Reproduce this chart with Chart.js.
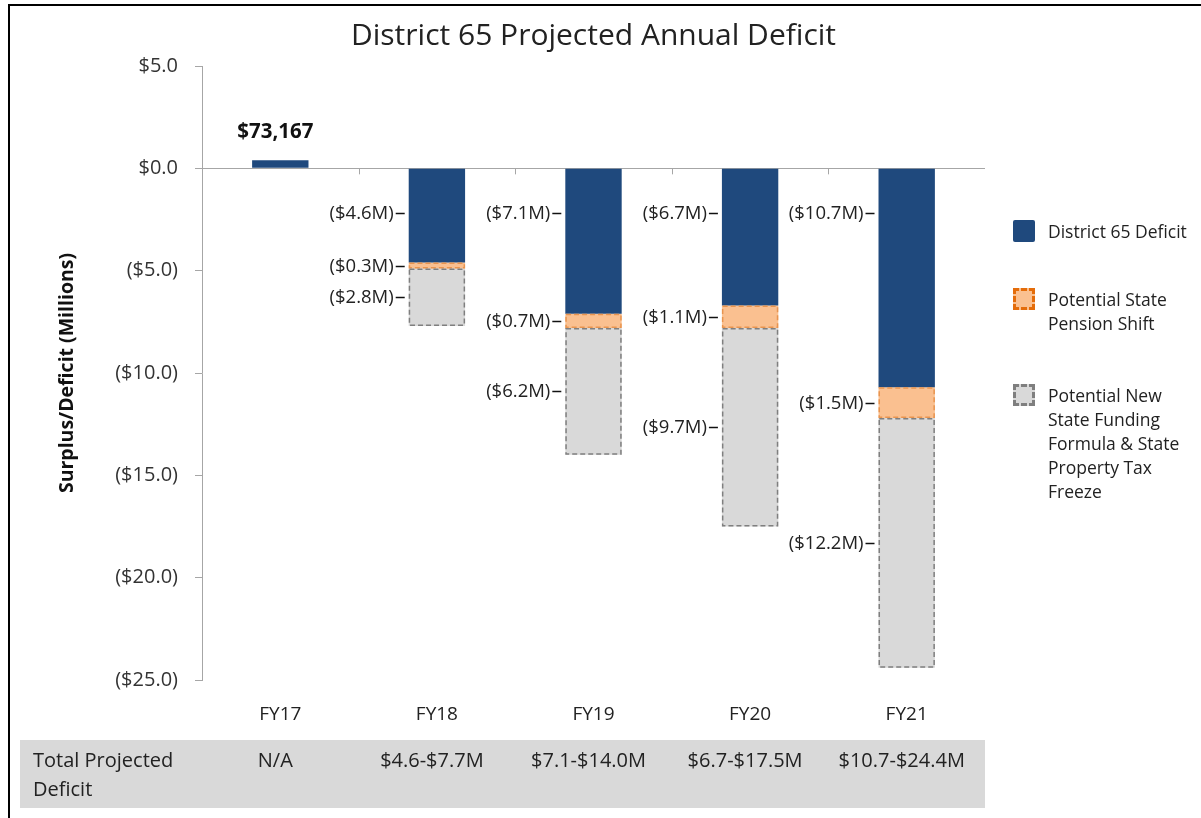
<!DOCTYPE html>
<html>
<head>
<meta charset="utf-8">
<script src="https://cdn.jsdelivr.net/npm/chart.js@4.4.1/dist/chart.umd.min.js"></script>
<style>
  html, body { margin: 0; padding: 0; background: #fff; overflow: hidden; }
  #wrap { position: relative; width: 1201px; height: 818px; }
  #frame { position: absolute; left: 8px; top: 4px; width: 1400px; height: 1000px; border: 2px solid #000; box-sizing: border-box; }
  canvas { position: absolute; left: 0; top: 0; }
  #legend { position: absolute; left: 1013px; top: 0; font-family: 'Open Sans', sans-serif; font-size: 17.5px; color: #222; line-height: 24px; }
  .item { position: absolute; left: 0; width: 190px; }
  .sw { position: absolute; left: 0; top: 0; width: 22px; height: 22px; box-sizing: border-box; }
  .txt { position: absolute; left: 35px; top: -1px; white-space: nowrap; }
</style>
</head>
<body>
<div id="wrap">
  <div id="frame"></div>
  <canvas id="deficitChart" width="1201" height="818"></canvas>
  <div id="legend"></div>
</div>
<script>
const years = ['FY17', 'FY18', 'FY19', 'FY20', 'FY21'];
const district65 = [0.4, -4.6, -7.1, -6.7, -10.7];
const pensionShift = [null, -0.3, -0.7, -1.1, -1.5];
const newFunding = [null, -2.8, -6.2, -9.7, -12.2];
const totalLabels = ['N/A', '$4.6-$7.7M', '$7.1-$14.0M', '$6.7-$17.5M', '$10.7-$24.4M'];
const surplusLabel = '$73,167';
const yTicks = [5, 0, -5, -10, -15, -20, -25];

const FONT = "'Open Sans', sans-serif";

function fmtTick(v) {
    if (v === 0) return '$0.0';
    return v > 0 ? '$' + v.toFixed(1) : '($' + Math.abs(v).toFixed(1) + ')';
}
function fmtSeg(v) {
    return '($' + Math.abs(v).toFixed(1) + 'M)';
}

// dashed outlines, segment labels, zero-line ticks and the table row
const extrasPlugin = {
    id: 'extras',
    afterDatasetsDraw(chart) {
        const ctx = chart.ctx;
        const x = chart.scales.x, y = chart.scales.y;
        const y0 = y.getPixelForValue(0);

        ctx.save();
        // category ticks on the zero line
        ctx.strokeStyle = '#a6a6a6';
        ctx.lineWidth = 1;
        for (let i = 0; i < years.length - 1; i++) {
            const bx = Math.round((x.getPixelForValue(i) + x.getPixelForValue(i + 1)) / 2) + 0.5;
            ctx.beginPath();
            ctx.moveTo(bx, y0);
            ctx.lineTo(bx, y0 + 6);
            ctx.stroke();
        }

        chart.data.datasets.forEach((ds, di) => {
            const meta = chart.getDatasetMeta(di);
            meta.data.forEach((bar, i) => {
                const v = ds.data[i];
                if (v === null || v === undefined) return;
                const left = bar.x - bar.width / 2;
                const top = Math.min(bar.y, bar.base), bot = Math.max(bar.y, bar.base);
                if (ds.dashColor) {
                    ctx.setLineDash([5, 3]);
                    ctx.strokeStyle = ds.dashColor;
                    ctx.lineWidth = 1.5;
                    ctx.strokeRect(left + 0.75, top + 0.75, bar.width - 1.5, bot - top - 1.5);
                    ctx.setLineDash([]);
                }
                if (v > 0) {
                    ctx.fillStyle = '#111';
                    ctx.font = "bold 20.5px " + FONT;
                    ctx.textAlign = 'center';
                    ctx.textBaseline = 'middle';
                    ctx.fillText(surplusLabel, bar.x - 5, top - 28);
                } else {
                    // deficit labels sit just under the zero line, the others at mid segment
                    const my = (di === 0 ? Math.round(top + 44) : Math.round((top + bot) / 2)) + 0.5;
                    ctx.strokeStyle = '#111';
                    ctx.lineWidth = 1.5;
                    ctx.beginPath();
                    ctx.moveTo(left - 13, my);
                    ctx.lineTo(left - 4, my);
                    ctx.stroke();
                    ctx.fillStyle = '#222';
                    ctx.font = "18.5px " + FONT;
                    ctx.textAlign = 'right';
                    ctx.textBaseline = 'middle';
                    ctx.fillText(fmtSeg(v), left - 15, my);
                }
            });
        });

        // total projected deficit row
        ctx.fillStyle = '#d9d9d9';
        ctx.fillRect(20, 740, x.right - 20, 68);
        ctx.fillStyle = '#222';
        ctx.font = "20px " + FONT;
        ctx.textBaseline = 'middle';
        ctx.textAlign = 'left';
        ctx.fillText('Total Projected', 33, 761);
        ctx.fillText('Deficit', 33, 790);
        ctx.textAlign = 'center';
        totalLabels.forEach((t, i) => ctx.fillText(t, x.getPixelForValue(i) - 5, 761));
        ctx.restore();
    }
};

const ctx = document.getElementById('deficitChart').getContext('2d');
const chart = new Chart(ctx, {
    type: 'bar',
    data: {
        labels: years,
        datasets: [
            { label: 'District 65 Deficit', data: district65, backgroundColor: '#1f497d', borderWidth: 0 },
            { label: 'Potential State Pension Shift', data: pensionShift, backgroundColor: '#fac090', borderWidth: 0, dashColor: '#e8944f', legendBorder: '#e46c0a' },
            { label: 'Potential New State Funding Formula & State Property Tax Freeze', data: newFunding, backgroundColor: '#d9d9d9', borderWidth: 0, dashColor: '#7f7f7f', legendBorder: '#7f7f7f' }
        ]
    },
    options: {
        responsive: false,
        animation: false,
        layout: { padding: { top: 0, right: 216, bottom: 0, left: 0 } },
        datasets: { bar: { barPercentage: 0.36, categoryPercentage: 1.0 } },
        plugins: {
            legend: { display: false },
            tooltip: { enabled: false },
            title: {
                display: true,
                text: 'District 65 Projected Annual Deficit',
                fullSize: false,
                color: '#222',
                font: { family: FONT, size: 30, weight: 'normal' },
                padding: { top: 18, bottom: 12 }
            }
        },
        scales: {
            x: {
                stacked: true,
                grid: { display: false },
                border: { display: false },
                ticks: { color: '#222', font: { family: FONT, size: 19 }, padding: 15 },
                afterFit(scale) { scale.height = 138; }
            },
            y: {
                stacked: true,
                min: -25, max: 5,
                afterBuildTicks(scale) { scale.ticks = yTicks.map(v => ({ value: v })); },
                grid: {
                    color: c => (c.tick && c.tick.value === 0 ? '#a6a6a6' : 'rgba(0,0,0,0)'),
                    tickColor: '#a6a6a6',
                    tickLength: 7
                },
                border: { display: true, color: '#a6a6a6' },
                ticks: { color: '#333', font: { family: FONT, size: 20 }, padding: 17, callback: v => fmtTick(v) },
                title: {
                    display: true,
                    text: 'Surplus/Deficit (Millions)',
                    color: '#111',
                    font: { family: FONT, size: 19.5, weight: 'bold' },
                    padding: { top: 56, bottom: 0 }
                },
                afterFit(scale) { scale.width = 202; }
            }
        }
    },
    plugins: [extrasPlugin]
});

// legend built from the datasets
const legendTops = [220, 288, 384];
const legendLines = [
    ['District 65 Deficit'],
    ['Potential State', 'Pension Shift'],
    ['Potential New', 'State Funding', 'Formula & State', 'Property Tax', 'Freeze']
];
const legendEl = document.getElementById('legend');
chart.data.datasets.forEach((ds, i) => {
    const item = document.createElement('div');
    item.className = 'item';
    item.style.top = legendTops[i] + 'px';
    const sw = document.createElement('div');
    sw.className = 'sw';
    sw.style.background = ds.backgroundColor;
    if (ds.legendBorder) {
        sw.style.border = '3px dashed ' + ds.legendBorder;
    } else {
        sw.style.borderRadius = '2px';
    }
    const txt = document.createElement('div');
    txt.className = 'txt';
    txt.innerHTML = legendLines[i].join('<br>');
    txt.title = ds.label;
    item.appendChild(sw);
    item.appendChild(txt);
    legendEl.appendChild(item);
});
</script>
</body>
</html>
